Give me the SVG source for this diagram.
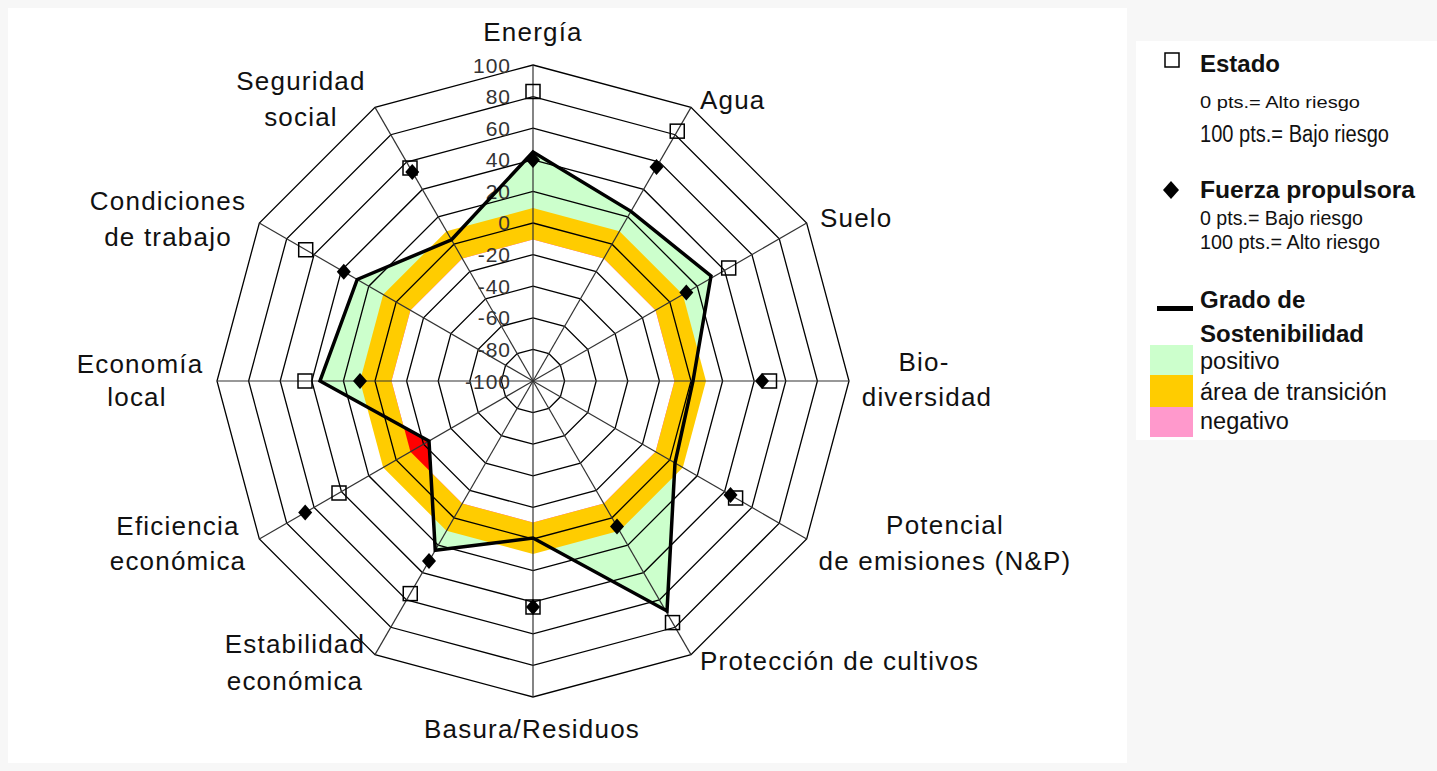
<svg xmlns="http://www.w3.org/2000/svg" xmlns:xlink="http://www.w3.org/1999/xlink" width="1437" height="771" viewBox="0 0 1437 771">
<style>
.ring{fill:none;stroke:#000;stroke-width:1.3}
.axis{stroke:#333;stroke-width:1.2}
.rl{font-family:"Liberation Sans",Arial,sans-serif;font-size:21px;letter-spacing:1px;fill:#333;text-anchor:end}
.lab{font-family:"Liberation Sans",Arial,sans-serif;font-size:26px;letter-spacing:1.2px;fill:#111}
.mid{text-anchor:middle}
.lb{font-family:"Liberation Sans",Arial,sans-serif;font-weight:bold;fill:#111}
.lt{font-family:"Liberation Sans",Arial,sans-serif;fill:#111}
</style>
<defs>
<rect id="sq" x="-7" y="-7" width="14" height="14" fill="none" stroke="#000" stroke-width="1.5"/>
<path id="dm" d="M0,-8 L7,0 L0,8 L-7,0Z" fill="#000"/>
<clipPath id="innerClip">
<polygon points="0,-141.5 70.75,-122.54 122.54,-70.75 141.5,0 122.54,70.75 70.75,122.54 0,141.5 -70.75,122.54 -122.54,70.75 -141.5,0 -122.54,-70.75 -70.75,-122.54"/>
</clipPath>
</defs>
<rect x="0" y="0" width="1437" height="771" fill="#f7f7f7"/>
<rect x="8" y="8" width="1119" height="755" fill="#ffffff"/>
<rect x="1136" y="41" width="301" height="399" fill="#ffffff"/>

<g id="chart" transform="translate(533,381)">
  <g id="fills">
    <polygon fill="#ccffcc" points="0,-229 97.96,-169.66 178,-105 160,0 142,82 134,230 0,157 -97.75,169.3 -104,60 -213,0 -175.8,-101.5 -81.5,-141.2"/>
    <polygon fill="#ffcc00" points="0,-173 86.5,-149.82 149.82,-86.5 173,0 149.82,86.5 86.5,149.82 0,173 -86.5,149.82 -149.82,86.5 -173,0 -149.82,-86.5 -86.5,-149.82"/>
    <polygon fill="#ff0000" points="0,-141.5 70.75,-122.54 122.54,-70.75 141.5,0 122.54,70.75 70.75,122.54 0,141.5 -70.75,122.54 -122.54,70.75 -141.5,0 -122.54,-70.75 -70.75,-122.54"/>
    <polygon fill="#ffffff" clip-path="url(#innerClip)" points="0,-229 97.96,-169.66 178,-105 160,0 142,82 134,230 0,157 -97.75,169.3 -104,60 -213,0 -175.8,-101.5 -81.5,-141.2"/>
  </g>
  <g id="grid">
    <polygon class="ring" points="0,-31.6 15.8,-27.37 27.37,-15.8 31.6,0 27.37,15.8 15.8,27.37 0,31.6 -15.8,27.37 -27.37,15.8 -31.6,0 -27.37,-15.8 -15.8,-27.37"/>
    <polygon class="ring" points="0,-63.2 31.6,-54.73 54.73,-31.6 63.2,0 54.73,31.6 31.6,54.73 0,63.2 -31.6,54.73 -54.73,31.6 -63.2,0 -54.73,-31.6 -31.6,-54.73"/>
    <polygon class="ring" points="0,-94.8 47.4,-82.1 82.1,-47.4 94.8,0 82.1,47.4 47.4,82.1 0,94.8 -47.4,82.1 -82.1,47.4 -94.8,0 -82.1,-47.4 -47.4,-82.1"/>
    <polygon class="ring" points="0,-126.4 63.2,-109.46 109.46,-63.2 126.4,0 109.46,63.2 63.2,109.46 0,126.4 -63.2,109.46 -109.46,63.2 -126.4,0 -109.46,-63.2 -63.2,-109.46"/>
    <polygon class="ring" points="0,-158 79,-136.83 136.83,-79 158,0 136.83,79 79,136.83 0,158 -79,136.83 -136.83,79 -158,0 -136.83,-79 -79,-136.83"/>
    <polygon class="ring" points="0,-189.6 94.8,-164.19 164.19,-94.8 189.6,0 164.19,94.8 94.8,164.19 0,189.6 -94.8,164.19 -164.19,94.8 -189.6,0 -164.19,-94.8 -94.8,-164.19"/>
    <polygon class="ring" points="0,-221.2 110.6,-191.56 191.56,-110.6 221.2,0 191.56,110.6 110.6,191.56 0,221.2 -110.6,191.56 -191.56,110.6 -221.2,0 -191.56,-110.6 -110.6,-191.56"/>
    <polygon class="ring" points="0,-252.8 126.4,-218.92 218.92,-126.4 252.8,0 218.92,126.4 126.4,218.92 0,252.8 -126.4,218.92 -218.92,126.4 -252.8,0 -218.92,-126.4 -126.4,-218.92"/>
    <polygon class="ring" points="0,-284.4 142.2,-246.29 246.29,-142.2 284.4,0 246.29,142.2 142.2,246.29 0,284.4 -142.2,246.29 -246.29,142.2 -284.4,0 -246.29,-142.2 -142.2,-246.29"/>
    <polygon class="ring" points="0,-316 158,-273.66 273.66,-158 316,0 273.66,158 158,273.66 0,316 -158,273.66 -273.66,158 -316,0 -273.66,-158 -158,-273.66"/>
    <line class="axis" x1="0" y1="0" x2="0" y2="-316"/>
    <line class="axis" x1="0" y1="0" x2="158" y2="-273.66"/>
    <line class="axis" x1="0" y1="0" x2="273.66" y2="-158"/>
    <line class="axis" x1="0" y1="0" x2="316" y2="0"/>
    <line class="axis" x1="0" y1="0" x2="273.66" y2="158"/>
    <line class="axis" x1="0" y1="0" x2="158" y2="273.66"/>
    <line class="axis" x1="0" y1="0" x2="0" y2="316"/>
    <line class="axis" x1="0" y1="0" x2="-158" y2="273.66"/>
    <line class="axis" x1="0" y1="0" x2="-273.66" y2="158"/>
    <line class="axis" x1="0" y1="0" x2="-316" y2="0"/>
    <line class="axis" x1="0" y1="0" x2="-273.66" y2="-158"/>
    <line class="axis" x1="0" y1="0" x2="-158" y2="-273.66"/>
  </g>
  <g id="ring-labels">
    <text class="rl" x="-22" y="-308.5">100</text>
    <text class="rl" x="-22" y="-277">80</text>
    <text class="rl" x="-22" y="-245">60</text>
    <text class="rl" x="-22" y="-214">40</text>
    <text class="rl" x="-22" y="-182">20</text>
    <text class="rl" x="-22" y="-151">0</text>
    <text class="rl" x="-22" y="-119">-20</text>
    <text class="rl" x="-22" y="-87">-40</text>
    <text class="rl" x="-22" y="-56">-60</text>
    <text class="rl" x="-22" y="-24">-80</text>
    <text class="rl" x="-22" y="7.5">-100</text>
  </g>
  <g id="connectors">
    <polygon fill="none" stroke="#000" stroke-width="3.5" stroke-linejoin="miter" points="0,-229 97.96,-169.66 178,-105 160,0 142,82 134,230 0,157 -97.75,169.3 -104,60 -213,0 -175.8,-101.5 -81.5,-141.2"/>
  </g>
  <g id="estado-markers">
    <use href="#sq" x="0" y="-289.5"/>
    <use href="#sq" x="144.25" y="-249.85"/>
    <use href="#sq" x="195.7" y="-113"/>
    <use href="#sq" x="236.5" y="0"/>
    <use href="#sq" x="202.6" y="117"/>
    <use href="#sq" x="139.5" y="241.6"/>
    <use href="#sq" x="0" y="226"/>
    <use href="#sq" x="-122.75" y="212.6"/>
    <use href="#sq" x="-194" y="112"/>
    <use href="#sq" x="-228" y="0"/>
    <use href="#sq" x="-227.3" y="-131.25"/>
    <use href="#sq" x="-123" y="-213"/>
  </g>
  <g id="fuerza-markers">
    <use href="#dm" x="0" y="-221"/>
    <use href="#dm" x="123.5" y="-213.9"/>
    <use href="#dm" x="153.3" y="-88.5"/>
    <use href="#dm" x="229" y="0"/>
    <use href="#dm" x="197.5" y="114"/>
    <use href="#dm" x="84" y="145.5"/>
    <use href="#dm" x="0" y="226"/>
    <use href="#dm" x="-104" y="180.1"/>
    <use href="#dm" x="-227.8" y="131.5"/>
    <use href="#dm" x="-173" y="0"/>
    <use href="#dm" x="-189.2" y="-109.25"/>
    <use href="#dm" x="-120.75" y="-209.1"/>
  </g>
</g>

<g id="axis-labels">
  <g id="lbl-energia"><text class="lab mid" x="533" y="41">Energía</text></g>
  <g id="lbl-agua"><text class="lab" x="700" y="109">Agua</text></g>
  <g id="lbl-suelo"><text class="lab" x="820" y="227">Suelo</text></g>
  <g id="lbl-bio"><text class="lab mid" x="924" y="371">Bio-</text><text class="lab mid" x="927" y="406">diversidad</text></g>
  <g id="lbl-potencial"><text class="lab mid" x="945" y="534">Potencial</text><text class="lab mid" x="945" y="570">de emisiones (N&amp;P)</text></g>
  <g id="lbl-proteccion"><text class="lab" x="700" y="670">Protección de cultivos</text></g>
  <g id="lbl-basura"><text class="lab mid" x="532" y="738">Basura/Residuos</text></g>
  <g id="lbl-estabilidad"><text class="lab mid" x="295" y="653">Estabilidad</text><text class="lab mid" x="295" y="690">económica</text></g>
  <g id="lbl-eficiencia"><text class="lab mid" x="178" y="535">Eficiencia</text><text class="lab mid" x="178" y="570">económica</text></g>
  <g id="lbl-economia"><text class="lab mid" x="140" y="373">Economía</text><text class="lab mid" x="137" y="406">local</text></g>
  <g id="lbl-condiciones"><text class="lab mid" x="168" y="210">Condiciones</text><text class="lab mid" x="168" y="246">de trabajo</text></g>
  <g id="lbl-seguridad"><text class="lab mid" x="301" y="90">Seguridad</text><text class="lab mid" x="301" y="126">social</text></g>
</g>

<g id="legend">
  <g id="leg-estado">
    <rect x="1165" y="53" width="14" height="14" fill="none" stroke="#000" stroke-width="1.5"/>
    <text class="lb" x="1200" y="72" font-size="24">Estado</text>
    <text class="lt" x="1200" y="108" font-size="17" textLength="160" lengthAdjust="spacingAndGlyphs">0 pts.= Alto riesgo</text>
    <text class="lt" x="1200" y="142" font-size="23" textLength="189" lengthAdjust="spacingAndGlyphs">100 pts.= Bajo riesgo</text>
  </g>
  <g id="leg-fuerza">
    <path d="M1171,181 L1179,190 L1171,199 L1163,190Z" fill="#000"/>
    <text class="lb" x="1200" y="198" font-size="23" textLength="215" lengthAdjust="spacingAndGlyphs">Fuerza propulsora</text>
    <text class="lt" x="1200" y="225" font-size="21" textLength="163" lengthAdjust="spacingAndGlyphs">0 pts.= Bajo riesgo</text>
    <text class="lt" x="1200" y="249" font-size="21" textLength="180" lengthAdjust="spacingAndGlyphs">100 pts.= Alto riesgo</text>
  </g>
  <g id="leg-grado">
    <line x1="1157" y1="308.5" x2="1193" y2="308.5" stroke="#000" stroke-width="5"/>
    <text class="lb" x="1200" y="308" font-size="24">Grado de</text>
    <text class="lb" x="1200" y="342" font-size="24">Sostenibilidad</text>
  </g>
  <g id="leg-areas">
    <rect x="1150" y="345" width="43" height="30" fill="#ccffcc"/>
    <rect x="1150" y="375" width="43" height="32" fill="#ffcc00"/>
    <rect x="1150" y="407" width="43" height="30" fill="#ff99cc"/>
    <text class="lt" x="1200" y="369" font-size="23.5">positivo</text>
    <text class="lt" x="1200" y="400" font-size="23.5">área de transición</text>
    <text class="lt" x="1200" y="429" font-size="23.5">negativo</text>
  </g>
</g>
</svg>
